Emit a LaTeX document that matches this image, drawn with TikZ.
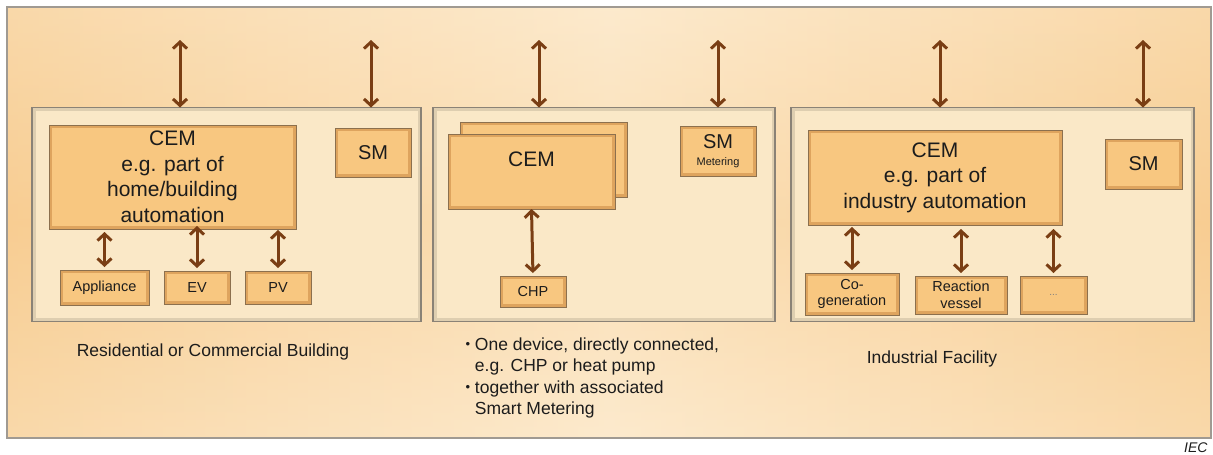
\documentclass[tikz,border=0pt]{standalone}
\usepackage{fontspec}
\setmainfont{Liberation Sans}
\usetikzlibrary{arrows.meta}

\definecolor{bglight}{RGB}{252,234,205}
\definecolor{bgorange}{RGB}{248,205,146}
\definecolor{bgedge}{RGB}{160,154,146}
\definecolor{panelfill}{RGB}{250,232,199}
\definecolor{paneledge}{RGB}{138,130,118}
\definecolor{panelshade}{RGB}{222,206,176}
\definecolor{boxfill}{RGB}{248,199,128}
\definecolor{boxedge}{RGB}{140,112,78}
\definecolor{boxshade}{RGB}{222,164,94}
\definecolor{arrowbrown}{RGB}{122,62,20}
\definecolor{txt}{RGB}{28,28,28}

\newcommand{\bul}{\raisebox{1.5pt}{\fontsize{13}{13}\selectfont\textbullet}\ }

\begin{document}
\begin{tikzpicture}[x=1pt,y=-1pt, every node/.style={text=txt},
	panel/.style={draw=paneledge, line width=1.3pt, fill=panelfill, inner sep=0pt, outer sep=0pt, minimum height=214pt,
		path picture={\draw[line width=7pt, panelshade] (path picture bounding box.south west) rectangle (path picture bounding box.north east);}},
	devbox/.style={draw=boxedge, line width=1pt, fill=boxfill, inner sep=0pt, outer sep=0pt, align=center,
		path picture={\draw[line width=6pt, boxshade] (path picture bounding box.south west) rectangle (path picture bounding box.north east);}},
	link/.style={arrowbrown, line width=3pt, {Straight Barb[length=6.5pt,width=14pt]}-{Straight Barb[length=6.5pt,width=14pt]}},
	bigtext/.style={font=\fontsize{21}{25.5}\selectfont},
	smalltext/.style={font=\fontsize{14.5}{16.5}\selectfont},
	caption/.style={font=\fontsize{17.5}{21.5}\selectfont}]
	\useasboundingbox (0,0) rectangle (1213,455);
	
	% background
	\shade[top color=bglight, bottom color=bglight, middle color=bgorange] (7,7) rectangle (1211,438);
	\shade[left color=bgorange, right color=bgorange, middle color=bglight, fill opacity=0.6] (7,7) rectangle (1211,438);
	\draw[bgedge, line width=1.5pt] (7,7) rectangle (1211,438);
	
	% panels
	\node[panel, minimum width=389pt] (panelA) at (226.5,214.5) {};
	\node[panel, minimum width=342pt] (panelB) at (604,214.5) {};
	\node[panel, minimum width=403pt] (panelC) at (992.5,214.5) {};
	
	% residential or commercial building
	\node[devbox, bigtext, minimum width=247pt, minimum height=104pt] (cemA) at (172.5,177) {CEM\\e.g. part of\\home/building\\automation};
	\node[devbox, font=\fontsize{20}{22}\selectfont, minimum width=76pt, minimum height=49pt] (smA) at (373,152.5) {SM};
	\node[devbox, smalltext, minimum width=89pt, minimum height=35pt] (app) at (104.5,287.5) {Appliance};
	\node[devbox, smalltext, minimum width=66pt, minimum height=33pt] (ev) at (197,287.5) {EV};
	\node[devbox, smalltext, minimum width=66pt, minimum height=33pt] (pv) at (278,287.5) {PV};
	
	% one device
	\node[devbox, minimum width=167pt, minimum height=75pt] (cemBback) at (543.5,159.5) {};
	\node[devbox, minimum width=167pt, minimum height=75pt] (cemB) at (531.5,171.5) {};
	\node[bigtext] (cemBtext) at (531.5,159) {CEM};
	\node[devbox, font=\fontsize{20}{17}\selectfont, minimum width=76pt, minimum height=50pt] (smB) at (718,151) {SM\\{\fontsize{11}{11}\selectfont Metering}};
	\node[devbox, smalltext, minimum width=66pt, minimum height=31pt] (chp) at (533,291.5) {CHP};
	
	% industrial facility
	\node[devbox, bigtext, minimum width=254pt, minimum height=95pt] (cemC) at (935,177.5) {CEM\\e.g. part of\\industry automation};
	\node[devbox, font=\fontsize{20}{22}\selectfont, minimum width=77pt, minimum height=50pt] (smC) at (1143.5,164) {SM};
	\node[devbox, smalltext, minimum width=94pt, minimum height=42pt] (cogen) at (852,294) {Co-\\generation};
	\node[devbox, smalltext, minimum width=92pt, minimum height=38pt] (vessel) at (961,295) {Reaction\\vessel};
	\node[devbox, font=\fontsize{10}{10}\selectfont, text=gray, minimum width=67pt, minimum height=38pt] (more) at (1053.5,295) {...};
	
	% links to the outside
	\coordinate (upA1) at (180,40);
	\coordinate (upA2) at (371,40);
	\coordinate (upB1) at (539,40);
	\coordinate (upB2) at (718,40);
	\coordinate (upC1) at (940,40);
	\coordinate (upC2) at (1143,40);
	\draw[link] (upA1) -- (upA1 |- panelA.north);
	\draw[link] (upA2) -- (upA2 |- panelA.north);
	\draw[link] (upB1) -- (upB1 |- panelB.north);
	\draw[link] (upB2) -- (upB2 |- panelB.north);
	\draw[link] (upC1) -- (upC1 |- panelC.north);
	\draw[link] (upC2) -- (upC2 |- panelC.north);
	
	% links inside
	\draw[link, shorten <=3pt, shorten >=3pt] (cemA.south -| app.north) -- (app.north);
	\draw[link, shorten <=-3pt, shorten >=3pt] (cemA.south -| ev.north) -- (ev.north);
	\draw[link, shorten <=1pt, shorten >=3pt] (cemA.south -| pv.north) -- (pv.north);
	\draw[link, shorten >=3pt] (cemB.south) -- (chp.north);
	\draw[link, shorten <=2pt, shorten >=3pt] (cemC.south -| cogen.north) -- (cogen.north);
	\draw[link, shorten <=4pt, shorten >=3pt] (cemC.south -| vessel.north) -- (vessel.north);
	\draw[link, shorten <=4pt, shorten >=3pt] (cemC.south -| more.north) -- (more.north);
	
	% captions
	\node[caption] (capA) at (213,352) {Residential or Commercial Building};
	\node[caption, anchor=north west, align=left] (capB) at (462,334) {\bul One device, directly connected,\\
		\hphantom{\bul}e.g. CHP or heat pump\\
		\bul together with associated\\
		\hphantom{\bul}Smart Metering};
	\node[caption] (capC) at (932,359) {Industrial Facility};
	\node[font=\fontsize{14}{14}\selectfont\itshape, anchor=east] (iec) at (1211,448) {IEC};
\end{tikzpicture}
\end{document}
